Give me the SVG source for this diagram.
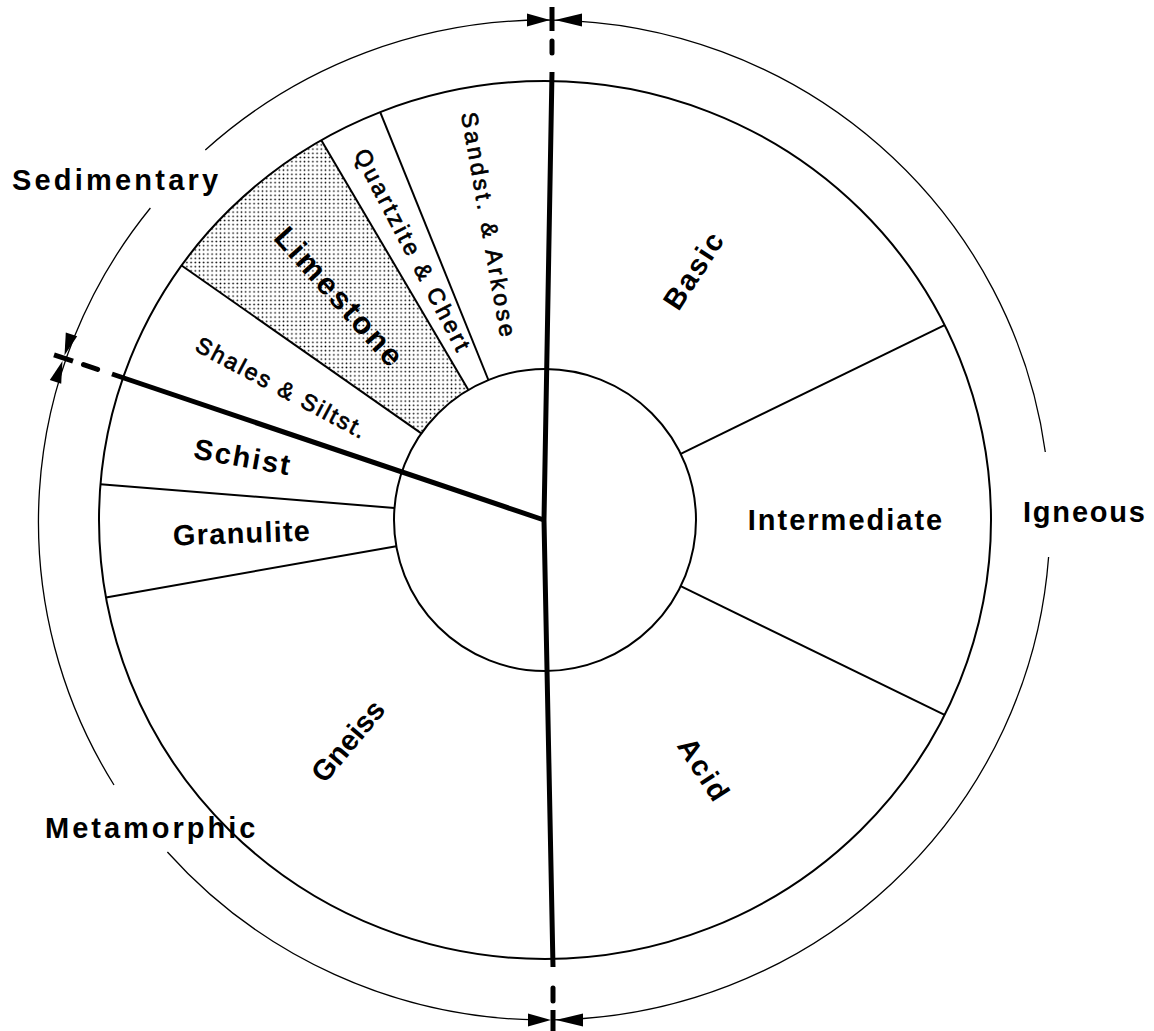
<svg xmlns="http://www.w3.org/2000/svg" width="1154" height="1031" viewBox="0 0 1154 1031">
<defs>
<pattern id="dots" width="4.2" height="4.2" patternUnits="userSpaceOnUse"><circle cx="2.1" cy="2.1" r="0.85" fill="#000"/></pattern>
</defs>
<style>
.b{font-family:"Liberation Sans",Arial,sans-serif;font-weight:bold;font-size:29px;fill:#000}
.m{font-family:"Liberation Sans",Arial,sans-serif;font-weight:normal;font-size:23px;fill:#000;stroke:#000;stroke-width:0.7}
.thin{fill:none;stroke:#000;stroke-width:2}
.ring{fill:none;stroke:#000;stroke-width:1.3}
.thick{fill:none;stroke:#000;stroke-width:5}
.dash{fill:none;stroke:#000;stroke-width:5;stroke-linecap:round}
.ah{fill:#000;stroke:none}
</style>
<rect width="1154" height="1031" fill="#fff"/>

<g id="sector-limestone">
<path d="M421.3,433.4 L181.6,265.5 A446,439 0 0 1 321.3,140.2 L468.4,389.9 A151,151 0 0 0 421.3,433.4 Z" fill="url(#dots)"/>
<text class="b" style="font-size:31px;letter-spacing:2.5px" text-anchor="middle" transform="translate(340,297) rotate(48)" y="11">Limestone</text>
</g>

<g id="pie">
<ellipse cx="545" cy="520" rx="446" ry="439" class="thin"/>
<circle cx="545" cy="520" r="151" class="thin" fill="#fff"/>
</g>

<g id="connectors">
<line class="thin" x1="680.7" y1="453.8" x2="944.6" y2="325.1"/>
<line class="thin" x1="680.7" y1="586.2" x2="944.6" y2="714.9"/>
<line class="thin" x1="396.3" y1="546.2" x2="106.0" y2="597.4"/>
<line class="thin" x1="394.5" y1="507.9" x2="100.5" y2="484.2"/>
<line class="thin" x1="421.3" y1="433.4" x2="181.6" y2="265.5"/>
<line class="thin" x1="468.4" y1="389.9" x2="321.3" y2="140.2"/>
<line class="thin" x1="488.4" y1="380.0" x2="380.2" y2="112.1"/>
<polyline class="thick" points="552,72 544,520 553,967"/>
<line class="thick" x1="544" y1="520" x2="112" y2="374"/>
<line class="dash" x1="97.6" y1="369.4" x2="83.5" y2="364.6"/>
<line class="dash" x1="552" y1="41" x2="552" y2="53"/>
<line class="dash" x1="553" y1="988" x2="553" y2="1001"/>
<!-- outer ring -->
<path class="ring" d="M552,20.05 A505,500 0 0 1 1045.3,452"/>
<path class="ring" d="M1048.6,557 A505,500 0 0 1 553,1019.9"/>
<path class="ring" d="M537,1019.9 A505,500 0 0 1 167.4,852"/>
<path class="ring" d="M114,785 A505,500 0 0 1 150.4,208"/>
<path class="ring" d="M205.3,150 A505,500 0 0 1 552,20.05"/>
<!-- top marker -->
<line x1="552" y1="7" x2="552" y2="31" stroke="#000" stroke-width="5"/>
<polygon class="ah" points="550,20 527,13.5 527,26.5"/>
<polygon class="ah" points="555,20 582,13.5 582,26.5"/>
<!-- bottom marker -->
<line x1="553" y1="1010" x2="553" y2="1031" stroke="#000" stroke-width="5"/>
<polygon class="ah" points="551,1020 528,1013.5 528,1026.5"/>
<polygon class="ah" points="556,1020 583,1013.5 583,1026.5"/>
<!-- left marker -->
<line x1="73" y1="361.1" x2="54" y2="354.8" stroke="#000" stroke-width="5"/>
<polygon class="ah" points="62.5,361 61.2,383.8 49.8,380"/>
<polygon class="ah" points="64.5,355.2 77.2,336.2 65.8,332.4"/>
</g>

<g id="label-sedimentary"><text class="b" style="letter-spacing:3.2px" x="12" y="190">Sedimentary</text></g>
<g id="label-igneous"><text class="b" style="letter-spacing:1.8px" x="1023" y="522">Igneous</text></g>
<g id="label-metamorphic"><text class="b" style="letter-spacing:3px" x="45" y="838">Metamorphic</text></g>

<g id="sector-basic"><text class="b" style="letter-spacing:2px" text-anchor="middle" transform="translate(694,270) rotate(-57)" y="10">Basic</text></g>
<g id="sector-intermediate"><text class="b" style="letter-spacing:2px" text-anchor="middle" x="846" y="530">Intermediate</text></g>
<g id="sector-acid"><text class="b" style="letter-spacing:2px" text-anchor="middle" transform="translate(704,770) rotate(57)" y="10">Acid</text></g>
<g id="sector-gneiss"><text class="b" style="letter-spacing:0px" text-anchor="middle" transform="translate(348,741) rotate(-50)" y="10">Gneiss</text></g>
<g id="sector-granulite"><text class="b" style="letter-spacing:1.2px" text-anchor="middle" transform="translate(242,533) rotate(-2)" y="10">Granulite</text></g>
<g id="sector-schist"><text class="b" style="letter-spacing:2px" text-anchor="middle" transform="translate(243,457) rotate(10)" y="10">Schist</text></g>
<g id="sector-shales"><text class="m" style="letter-spacing:2.3px" text-anchor="middle" transform="translate(282,388) rotate(28)" y="8">Shales &amp; Siltst.</text></g>
<g id="sector-quartzite"><text class="m" style="letter-spacing:2.9px" text-anchor="middle" transform="translate(413,251) rotate(62.5)" y="8">Quartzite &amp; Chert</text></g>
<g id="sector-sandstone"><text class="m" style="letter-spacing:3.4px" text-anchor="middle" transform="translate(489,226) rotate(80)" y="8">Sandst. &amp; Arkose</text></g>
</svg>
